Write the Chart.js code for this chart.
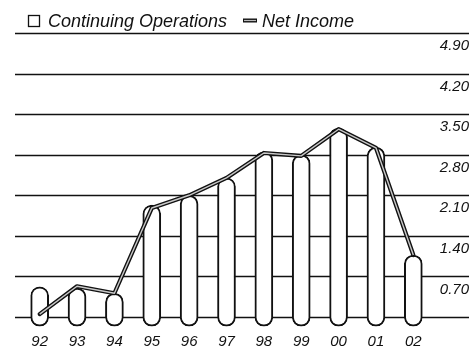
<!DOCTYPE html>
<html>
<head>
<meta charset="utf-8">
<script src="https://cdn.jsdelivr.net/npm/chart.js@4/dist/chart.umd.min.js"></script>
<style>
  html, body { margin: 0; padding: 0; background: #fff; }
  #wrap { width: 469px; height: 347px; position: relative; }
</style>
</head>
<body>
<div id="wrap"><canvas id="earningsChart"></canvas></div>
<script>
const years = ['92', '93', '94', '95', '96', '97', '98', '99', '00', '01', '02'];
const continuingOps = [0.52, 0.50, 0.41, 1.93, 2.10, 2.40, 2.85, 2.80, 3.26, 2.93, 1.07];
const netIncome = [0.05, 0.53, 0.41, 1.88, 2.10, 2.40, 2.83, 2.78, 3.24, 2.92, 1.07];
const yMax = 4.90;
const yStep = 0.70;

const FONT = '"Liberation Sans", Arial, Helvetica, sans-serif';

// horizontal rules run the full width, behind the bars
const ruleLines = {
  id: 'ruleLines',
  beforeDatasetsDraw(chart) {
    const { ctx, scales: { y } } = chart;
    ctx.save();
    ctx.strokeStyle = '#111';
    ctx.lineWidth = 1.5;
    y.ticks.forEach(t => {
      const py = Math.round(y.getPixelForValue(t.value)) + 0.5;
      ctx.beginPath();
      ctx.moveTo(15, py);
      ctx.lineTo(chart.width, py);
      ctx.stroke();
    });
    ctx.restore();
  }
};

// legend row across the top
const legendRow = {
  id: 'legendRow',
  afterDraw(chart) {
    const ctx = chart.ctx;
    ctx.save();
    ctx.font = 'italic 18px ' + FONT;
    ctx.textBaseline = 'alphabetic';
    ctx.fillStyle = '#111';

    ctx.strokeStyle = '#111';
    ctx.lineWidth = 1.3;
    ctx.strokeRect(28.5, 15.5, 11, 11);
    ctx.fillText(chart.data.datasets[2].label, 48, 27);

    ctx.lineCap = 'butt';
    ctx.lineWidth = 4;
    ctx.beginPath();
    ctx.moveTo(243, 20.5);
    ctx.lineTo(257, 20.5);
    ctx.stroke();
    ctx.strokeStyle = '#bbb';
    ctx.lineWidth = 1.2;
    ctx.beginPath();
    ctx.moveTo(244, 20.5);
    ctx.lineTo(256, 20.5);
    ctx.stroke();
    ctx.fillText(chart.data.datasets[1].label, 262, 27);
    ctx.restore();
  }
};

new Chart(document.getElementById('earningsChart'), {
  type: 'bar',
  data: {
    labels: years,
    datasets: [
      {
        type: 'line',
        label: 'Net Income',
        data: netIncome,
        borderColor: '#c8c8c8',
        borderWidth: 1.4,
        pointRadius: 0,
        tension: 0,
        borderJoinStyle: 'round',
        clip: false,
        order: 0
      },
      {
        type: 'line',
        label: 'Net Income',
        data: netIncome,
        borderColor: '#111',
        borderWidth: 4.2,
        pointRadius: 0,
        tension: 0,
        borderJoinStyle: 'round',
        borderCapStyle: 'round',
        clip: false,
        order: 1
      },
      {
        label: 'Continuing Operations',
        data: continuingOps,
        backgroundColor: '#fff',
        borderColor: '#111',
        borderWidth: 2,
        borderRadius: 9,
        borderSkipped: false,
        barThickness: 18,
        base: -0.16,
        clip: false,
        order: 2
      }
    ]
  },
  options: {
    responsive: true,
    maintainAspectRatio: false,
    animation: false,
    layout: { padding: { top: 33, left: 21, right: 0, bottom: 0 } },
    plugins: {
      legend: { display: false },
      tooltip: { enabled: false }
    },
    scales: {
      x: {
        grid: { display: false, drawTicks: false },
        border: { display: false },
        ticks: {
          color: '#111',
          padding: 16,
          font: { family: FONT, size: 15, style: 'italic' }
        },
        afterFit(scale) { scale.height = 30; }
      },
      y: {
        position: 'right',
        min: 0,
        max: yMax,
        grid: { display: false, drawTicks: false },
        border: { display: false },
        ticks: {
          stepSize: yStep,
          color: '#111',
          padding: 4,
          crossAlign: 'far',
          labelOffset: 13,
          font: { family: FONT, size: 15, style: 'italic' },
          callback: v => (v === 0 ? '' : v.toFixed(2))
        },
        afterFit(scale) { scale.width = 37; }
      }
    }
  },
  plugins: [ruleLines, legendRow]
});
</script>
</body>
</html>
